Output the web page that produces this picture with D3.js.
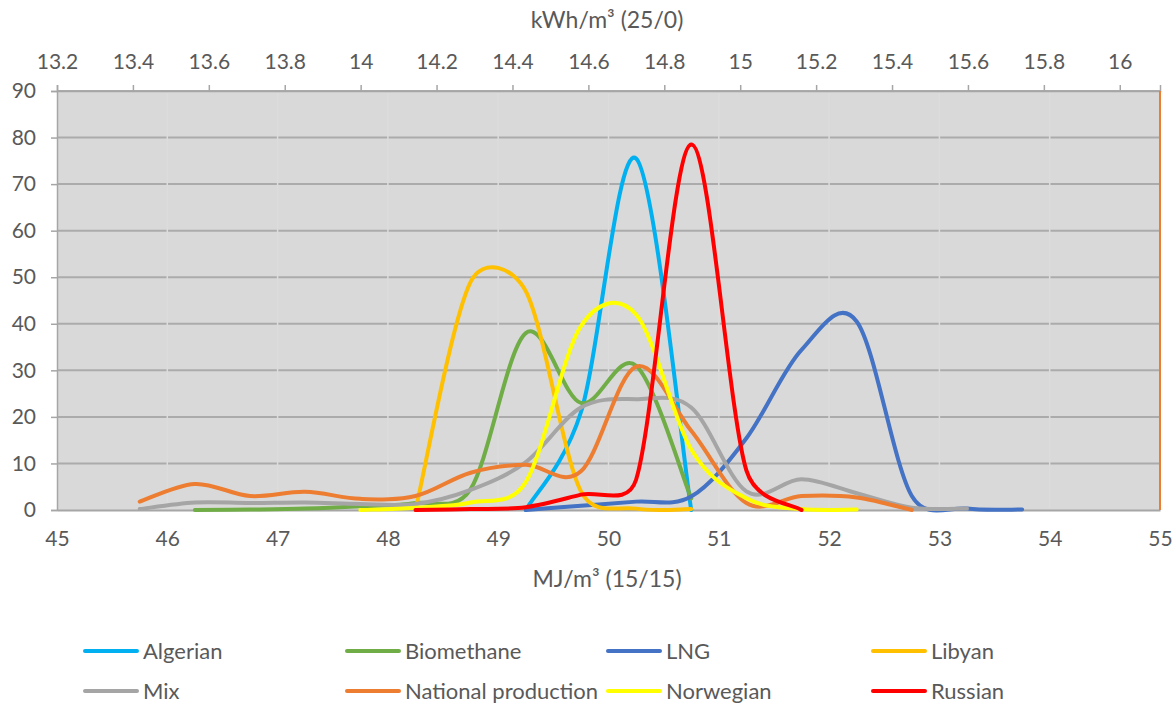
<!DOCTYPE html>
<html>
<head>
<meta charset="utf-8">
<script src="https://cdn.jsdelivr.net/npm/d3@7"></script>
<style>
  body { margin: 0; background: #fff; }
  svg text { font-family: Lato, "Open Sans", sans-serif; fill: #595959; }
</style>
</head>
<body>
<div id="chart"></div>
<script>
// bin centres, MJ/m3 (15/15)
const bins = [45.75, 46.25, 46.75, 47.25, 47.75, 48.25, 48.75, 49.25, 49.75,
              50.25, 50.75, 51.25, 51.75, 52.25, 52.75, 53.25, 53.75]

const n = null
const algerian   = [n, n, n, n, n, n, n, 0, 21, 75.5, 0, n, n, n, n, n, n]
const biomethane = [n, 0, 0.1, 0.3, 0.8, 1.5, 4.5, 38, 23, 31, 2.5, n, n, n, n, n, n]
const lng        = [n, n, n, n, n, n, n, 0, 0.9, 1.8, 2.9, 15.4, 34.4, 40.5, 3, 0.3, 0.1]
const libyan     = [n, n, n, n, n, 0, 49, 47, 4, 0.3, 0.2, n, n, n, n, n, n]
const mix        = [0.2, 1.6, 1.5, 1.6, 1.3, 1.3, 4.3, 10.3, 22, 23.8, 22, 4, 6.6, 3.6, 0.5, 0.3, n]
const national   = [1.8, 5.6, 3, 3.9, 2.4, 3, 8, 9.7, 8.3, 30.8, 17, 1.5, 3, 2.7, 0, n, n]
const norwegian  = [n, n, n, n, 0, 0.5, 1.6, 6, 39.5, 42, 13, 2.5, 0.2, 0.1, n, n, n]
const russian    = [n, n, n, n, n, 0, 0.2, 0.6, 3.3, 6.5, 78.5, 8.5, 0, n, n, n, n]

const seriesNames  = ["Algerian", "Biomethane", "LNG", "Libyan", "Mix", "National production", "Norwegian", "Russian"]
const seriesValues = [algerian, biomethane, lng, libyan, mix, national, norwegian, russian]
const seriesColors = ["#00b0f0", "#70ad47", "#4472c4", "#ffc000", "#a5a5a5", "#ed7d31", "#ffff00", "#ff0000"]

const bottomTicks = [45, 46, 47, 48, 49, 50, 51, 52, 53, 54, 55]
const topTicks = [13.2, 13.4, 13.6, 13.8, 14, 14.2, 14.4, 14.6, 14.8, 15, 15.2, 15.4, 15.6, 15.8, 16]
const yTicks = [0, 10, 20, 30, 40, 50, 60, 70, 80, 90]

const W = 1175, H = 706
const plotL = 57, plotR = 1160, plotT = 91, plotB = 510

// smoothed line in the spreadsheet style: bezier arms of 1/6 of the
// neighbour chord, capped at half of the segment they belong to
function smoothCurve(context) {
    let pts
    return {
        areaStart() {}, areaEnd() {},
        lineStart() { pts = [] },
        point(px, py) { pts.push([+px, +py]) },
        lineEnd() {
            if (!pts.length) return
            context.moveTo(pts[0][0], pts[0][1])
            for (let i = 0; i < pts.length - 1; i++) {
                const p0 = pts[Math.max(i - 1, 0)], p1 = pts[i], p2 = pts[i + 1]
                const p3 = pts[Math.min(i + 2, pts.length - 1)]
                const seg = Math.hypot(p2[0] - p1[0], p2[1] - p1[1])
                const arm = (a, b) => {
                    const d = Math.hypot(b[0] - a[0], b[1] - a[1])
                    if (!d) return [0, 0]
                    const len = Math.min(d / 6, seg / 2)
                    return [(b[0] - a[0]) / d * len, (b[1] - a[1]) / d * len]
                }
                const t1 = arm(p0, p2), t2 = arm(p1, p3)
                context.bezierCurveTo(p1[0] + t1[0], p1[1] + t1[1],
                                      p2[0] - t2[0], p2[1] - t2[1], p2[0], p2[1])
            }
        }
    }
}

const svg = d3.select("#chart").append("svg")
    .attr("width", W)
    .attr("height", H)

const x = d3.scaleLinear().domain([45, 55]).range([plotL, plotR])
const xTop = d3.scaleLinear().domain([13.2, 16.106]).range([plotL, plotR])
const y = d3.scaleLinear().domain([0, 90]).range([plotB, plotT])

// plot area
svg.append("rect")
    .attr("x", plotL).attr("y", plotT)
    .attr("width", plotR - plotL).attr("height", plotB - plotT)
    .attr("fill", "#d9d9d9")

// horizontal gridlines
svg.append("g")
    .selectAll("line")
    .data(yTicks.slice(1))
    .enter().append("line")
    .attr("x1", plotL).attr("x2", plotR)
    .attr("y1", d => y(d)).attr("y2", d => y(d))
    .attr("stroke", "#ababab")
    .attr("stroke-width", 2)

// faint breaks in the gridlines at the bottom ticks
svg.append("g")
    .selectAll("line")
    .data(bottomTicks.slice(1, -1))
    .enter().append("line")
    .attr("x1", d => x(d)).attr("x2", d => x(d))
    .attr("y1", plotT + 2).attr("y2", plotB - 2)
    .attr("stroke", "#dcdcdc")
    .attr("stroke-width", 1.5)

// left axis
const yAxis = svg.append("g")
    .attr("transform", `translate(${plotL},0)`)
    .call(d3.axisLeft(y).tickValues(yTicks).tickSize(6).tickPadding(15))
yAxis.select(".domain").attr("stroke", "#a6a6a6").attr("stroke-width", 1.5)
yAxis.selectAll(".tick line").attr("stroke", "#a6a6a6").attr("stroke-width", 1.5)
yAxis.selectAll("text").style("font-size", "21px").attr("fill", "#595959")

// top axis
const topAxis = svg.append("g")
    .attr("transform", `translate(0,${plotT})`)
    .call(d3.axisTop(xTop).tickValues(topTicks).tickSize(6).tickPadding(16).tickFormat(d3.format("")))
topAxis.select(".domain").attr("stroke", "#a6a6a6").attr("stroke-width", 1.5)
topAxis.selectAll(".tick line").attr("stroke", "#a6a6a6").attr("stroke-width", 1.5)
topAxis.selectAll("text").style("font-size", "21px").attr("fill", "#595959")

// bottom axis
const bottomAxis = svg.append("g")
    .attr("transform", `translate(0,${plotB})`)
    .call(d3.axisBottom(x).tickValues(bottomTicks).tickSize(0).tickPadding(21))
bottomAxis.select(".domain").attr("stroke", "#a6a6a6").attr("stroke-width", 2)
bottomAxis.selectAll("text").style("font-size", "21px").attr("fill", "#595959")

// right edge of the plot area
svg.append("line")
    .attr("x1", plotR).attr("x2", plotR)
    .attr("y1", plotT).attr("y2", plotB)
    .attr("stroke", "#ed7d31")
    .attr("stroke-width", 2)

// axis titles
svg.append("text")
    .attr("x", 607).attr("y", 28)
    .attr("text-anchor", "middle")
    .style("font-size", "23px")
    .text("kWh/m³ (25/0)")

svg.append("text")
    .attr("x", 607).attr("y", 587)
    .attr("text-anchor", "middle")
    .style("font-size", "23px")
    .text("MJ/m³ (15/15)")

// series
const line = d3.line()
    .defined(d => d[1] !== null)
    .x(d => x(d[0]))
    .y(d => y(d[1]))
    .curve(smoothCurve)

svg.append("g")
    .selectAll("path")
    .data(seriesValues)
    .enter().append("path")
    .attr("d", vals => line(bins.map((b, i) => [b, vals[i]])))
    .attr("fill", "none")
    .attr("stroke", (d, i) => seriesColors[i])
    .attr("stroke-width", 4)
    .attr("stroke-linejoin", "round")
    .attr("stroke-linecap", "round")

// legend, two rows of four
const legendX = [85, 347, 608, 873]
const legendY = [651, 691]
const legend = svg.append("g")
    .selectAll("g")
    .data(seriesNames)
    .enter().append("g")
    .attr("transform", (d, i) => `translate(${legendX[i % 4]},${legendY[Math.floor(i / 4)]})`)

legend.append("line")
    .attr("x1", 0).attr("x2", 52)
    .attr("stroke", (d, i) => seriesColors[i])
    .attr("stroke-width", 4)
    .attr("stroke-linecap", "round")

legend.append("text")
    .attr("x", 58).attr("dy", "0.35em")
    .style("font-size", "22px")
    .text(d => d)
</script>
</body>
</html>
